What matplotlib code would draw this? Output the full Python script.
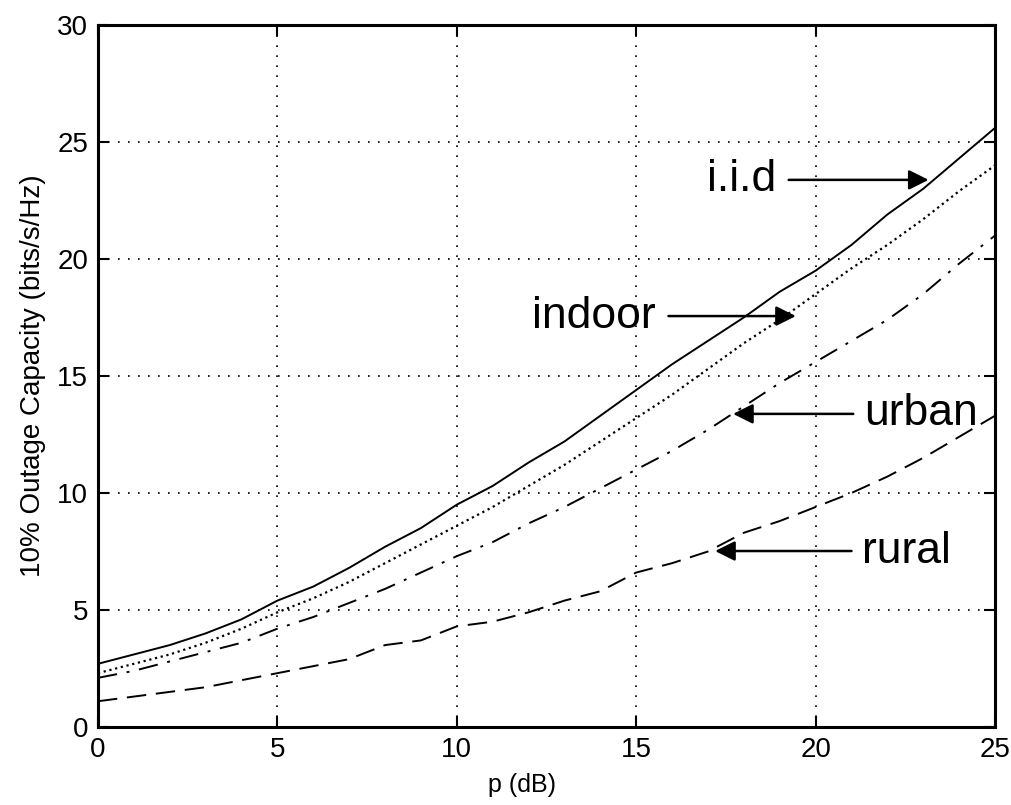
import numpy as np
import matplotlib.pyplot as plt

plt.rcParams['font.family'] = ['Liberation Sans', 'DejaVu Sans']

p_db = np.arange(0, 26)
iid = [2.7, 3.1, 3.5, 4.0, 4.6, 5.4, 6.0, 6.8, 7.7, 8.5, 9.5, 10.3, 11.3,
       12.2, 13.3, 14.4, 15.5, 16.5, 17.5, 18.6, 19.5, 20.6, 21.9, 23.0, 24.3, 25.6]
indoor = [2.3, 2.7, 3.1, 3.6, 4.2, 4.9, 5.5, 6.2, 7.0, 7.8, 8.6, 9.4, 10.3,
          11.2, 12.2, 13.2, 14.2, 15.3, 16.4, 17.4, 18.5, 19.6, 20.6, 21.7, 22.9, 24.0]
urban = [2.1, 2.4, 2.8, 3.2, 3.6, 4.2, 4.7, 5.3, 5.9, 6.6, 7.3, 7.9, 8.7,
         9.4, 10.2, 11.0, 11.8, 12.7, 13.7, 14.7, 15.6, 16.5, 17.4, 18.5, 19.8, 21.0]
rural = [1.1, 1.3, 1.5, 1.7, 2.0, 2.3, 2.6, 2.9, 3.5, 3.7, 4.3, 4.5, 4.9,
         5.4, 5.8, 6.6, 7.0, 7.5, 8.3, 8.8, 9.4, 10.0, 10.7, 11.5, 12.4, 13.3]

# label, text position, arrow tip
notes = [('i.i.d', (18.9, 23.38), (23.15, 23.38), 'right'),
         ('indoor', (15.55, 17.56), (19.45, 17.56), 'right'),
         ('urban', (21.35, 13.38), (17.7, 13.38), 'left'),
         ('rural', (21.3, 7.52), (17.2, 7.52), 'left')]

fig = plt.figure(figsize=(10.12, 8.05), dpi=100)
ax = fig.add_axes([0.0968, 0.0969, 0.8864, 0.8721])

ax.plot(p_db, iid, '-', color='k', lw=1.4)
ax.plot(p_db, indoor, ':', color='k', lw=1.6)
ax.plot(p_db, urban, '-.', color='k', lw=1.4, dashes=(10, 5, 1.5, 5))
ax.plot(p_db, rural, '--', color='k', lw=1.4, dashes=(10, 5))

for txt, xy_text, xy_tip, ha in notes:
    ax.text(xy_text[0], xy_text[1], txt, fontsize=32, ha=ha, va='center')
    # arrow starts a little away from the text
    start_x = xy_text[0] + (0.35 if ha == 'right' else -0.3)
    ax.annotate('', xy=xy_tip, xytext=(start_x, xy_text[1]),
                arrowprops=dict(arrowstyle='-|>', color='k', lw=1.8,
                                mutation_scale=30, shrinkA=0, shrinkB=0))

ax.set_xlim(0, 25)
ax.set_ylim(0, 30)
ax.set_xticks(np.arange(0, 26, 5))
ax.set_yticks(np.arange(0, 31, 5))
ax.grid(True, linestyle=(0, (1, 5)), color='k', lw=1.2)
ax.tick_params(direction='in', length=8, width=1.5, labelsize=20,
               top=True, right=True, pad=7)
for s in ax.spines.values():
    s.set_linewidth(2.2)

ax.set_xlabel('p (dB)', fontsize=18, labelpad=6)
ax.xaxis.set_label_coords(0.473, -0.065)
ax.set_ylabel('10% Outage Capacity (bits/s/Hz)', fontsize=20, labelpad=8)

fig.savefig('out.png', dpi=100)
